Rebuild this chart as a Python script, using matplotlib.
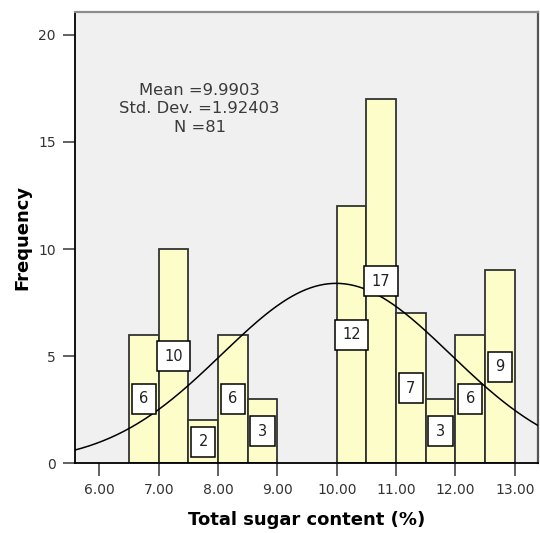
import matplotlib.pyplot as plt
import numpy as np

# histogram of total sugar content, bins of 0.5 starting at 6.5
BIN_START = 6.5
BIN_WIDTH = 0.5
COUNTS = [6, 10, 2, 6, 3, 0, 0, 12, 17, 7, 3, 6, 9]

MEAN = 9.9903
STD = 1.92403
N = 81

X_TICKS = [6, 7, 8, 9, 10, 11, 12, 13]
Y_TICKS = [0, 5, 10, 15, 20]

BAR_FILL = "#fdfdc9"
BAR_EDGE = "#333333"
PLOT_BG = "#f0f0f0"


def main():
	plt.rcParams["font.family"] = "DejaVu Sans"

	fig = plt.figure(figsize=(5.4, 5.33), dpi=100)
	ax = fig.add_axes([0.139, 0.131, 0.857, 0.8465])
	ax.set_facecolor(PLOT_BG)

	lefts = BIN_START + BIN_WIDTH * np.arange(len(COUNTS))
	counts = np.array(COUNTS)
	keep = counts > 0
	ax.bar(lefts[keep], counts[keep], width=BIN_WIDTH, align="edge",
		color=BAR_FILL, edgecolor=BAR_EDGE, linewidth=1.3, zorder=2)

	# fitted normal curve scaled to counts per bin
	xs = np.linspace(5.59, 13.39, 400)
	ys = N * BIN_WIDTH / (STD * np.sqrt(2 * np.pi)) * np.exp(-0.5 * ((xs - MEAN) / STD) ** 2)
	ax.plot(xs, ys, color="black", linewidth=1.1, zorder=3)

	for left, c in zip(lefts[keep], counts[keep]):
		ax.text(left + BIN_WIDTH / 2, c / 2, str(c), ha="center", va="center",
			fontsize=10.5, color="#222222", zorder=4,
			bbox=dict(boxstyle="square,pad=0.52", fc="white", ec="black", lw=1.1))

	ax.text(7.69, 16.54, f"Mean ={MEAN}\nStd. Dev. ={STD}\nN ={N}",
		ha="center", va="center", fontsize=11.8, color="#3a3a3a", linespacing=1.28)

	ax.set_xlim(5.59, 13.39)
	ax.set_ylim(0, 21.07)
	ax.set_xticks(X_TICKS)
	ax.set_xticklabels([f"{v:.2f}" for v in X_TICKS])
	ax.set_yticks(Y_TICKS)
	ax.tick_params(axis="both", length=9, width=1.3, color="#555555",
		labelsize=10, labelcolor="#333333", pad=5)

	for side in ["left", "bottom"]:
		ax.spines[side].set_color("black")
		ax.spines[side].set_linewidth(1.3)
	ax.spines["top"].set_color("#8c8c8c")
	ax.spines["top"].set_linewidth(1.6)
	ax.spines["right"].set_color("#555555")
	ax.spines["right"].set_linewidth(1.6)

	ax.set_xlabel("Total sugar content (%)", fontsize=13, fontweight="bold", labelpad=10)
	ax.set_ylabel("Frequency", fontsize=13, fontweight="bold")
	ax.yaxis.set_label_coords(-0.114, 0.5)
	ax.yaxis.label.set_va("center")

	fig.savefig("out.png", dpi=100)
	plt.close(fig)


if __name__ == "__main__":
	main()
